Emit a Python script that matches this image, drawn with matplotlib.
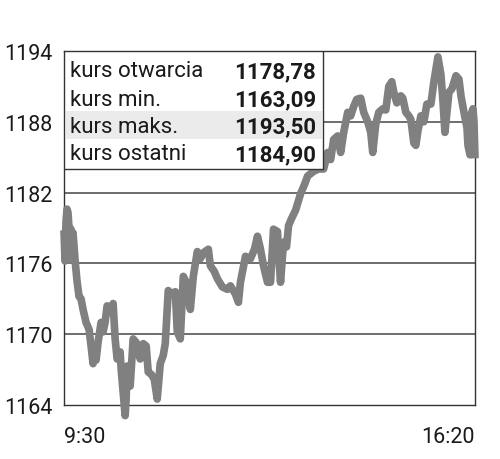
import matplotlib.pyplot as plt
from matplotlib.patches import Rectangle

# minutes since 9:30 and index value
minutes = [0, 1, 2, 3, 4, 5, 6, 7, 8, 9, 10, 11, 13, 15, 17, 19, 22, 25, 27, 29,
           30, 32, 34, 37, 39, 41, 43, 46, 49, 51, 53, 56, 57, 59, 61, 62, 63, 66, 69, 72,
           76, 79, 82, 84, 87, 90, 93, 96, 99, 101, 104, 107, 111, 113, 116, 119, 122, 124, 126, 129,
           133, 136, 139, 144, 146, 150, 153, 158, 163, 166, 171, 174, 176, 181, 186, 190, 193, 196, 199, 203,
           206, 209, 213, 214, 216, 219, 222, 224, 227, 231, 236, 240, 243, 249, 254, 259, 263, 266, 269, 273,
           276, 279, 283, 286, 289, 292, 296, 299, 303, 306, 308, 311, 314, 318, 321, 324, 327, 329, 332, 336,
           338, 341, 344, 346, 349, 351, 353, 356, 359, 362, 366, 369, 372, 373, 376, 378, 380, 384, 387, 391,
           394, 396, 399, 402, 403, 405, 406, 408, 409, 410]
prices = [1178.8, 1176.2, 1179.5, 1180.6, 1180.3, 1179.0, 1176.3, 1178.9, 1178.0, 1178.6, 1177.5, 1176.3, 1174.5, 1173.2, 1173.0, 1172.1, 1171.0, 1170.4, 1169.0, 1167.5,
          1168.5, 1167.8, 1169.3, 1171.0, 1170.2, 1171.0, 1172.4, 1171.9, 1172.6, 1169.6, 1167.9, 1168.5, 1167.05, 1165.1, 1163.1, 1164.5, 1167.3, 1165.6, 1169.6, 1169.3,
          1167.9, 1169.2, 1169.0, 1166.8, 1166.6, 1166.2, 1164.5, 1167.5, 1168.2, 1169.2, 1173.7, 1173.4, 1173.6, 1170.2, 1169.6, 1174.9, 1174.4, 1173.0, 1172.1, 1174.9,
          1177.0, 1176.4, 1176.9, 1177.2, 1175.8, 1175.3, 1174.7, 1174.0, 1173.8, 1174.1, 1173.4, 1172.7, 1174.4, 1176.6, 1176.4, 1177.2, 1178.3, 1177.2, 1175.8, 1174.4,
          1174.4, 1178.9, 1178.7, 1177.0, 1174.4, 1177.8, 1177.4, 1179.2, 1179.8, 1180.5, 1181.9, 1182.7, 1183.4, 1183.8, 1184.0, 1184.0, 1185.4, 1184.8, 1186.5, 1186.8,
          1185.4, 1187.1, 1188.8, 1188.5, 1189.3, 1189.9, 1190.0, 1188.8, 1188.0, 1187.1, 1185.4, 1187.8, 1188.8, 1189.1, 1189.0, 1191.0, 1191.4, 1190.5, 1189.6, 1190.2,
          1190.0, 1188.8, 1188.5, 1188.2, 1186.2, 1186.0, 1187.2, 1188.5, 1188.0, 1189.5, 1189.5, 1191.4, 1193.0, 1193.5, 1192.0, 1189.8, 1187.1, 1190.5, 1190.8, 1191.9,
          1191.6, 1190.2, 1188.8, 1187.5, 1186.0, 1185.2, 1188.6, 1189.1, 1188.0, 1184.9]

y_ticks = [1164, 1170, 1176, 1182, 1188, 1194]
x_ticks = [0, 410]
x_labels = ["9:30", "16:20"]

stat_names = ["kurs otwarcia", "kurs min.", "kurs maks.", "kurs ostatni"]
stat_values = ["1178,78", "1163,09", "1193,50", "1184,90"]

plt.rcParams['font.family'] = ['Roboto', 'DejaVu Sans']

fig = plt.figure(figsize=(5, 4.6), dpi=100)
ax = fig.add_axes([0.128, 0.1174, 0.822, 0.7696])

for v in y_ticks[1:-1]:
    ax.axhline(v, color='#555555', lw=1.2, zorder=1)

ax.plot(minutes, prices, color='#808080', lw=5.5, solid_joinstyle='round',
        solid_capstyle='butt', clip_on=False, zorder=3)

ax.set_xlim(0, 410)
ax.set_ylim(1164, 1194)
ax.set_yticks(y_ticks)
ax.set_yticklabels([str(v) for v in y_ticks])
ax.set_xticks(x_ticks)
ax.set_xticklabels(x_labels)
ax.tick_params(length=0, labelsize=15.5, colors='#1a1a1a')
ax.tick_params(axis='y', pad=8)
ax.tick_params(axis='x', pad=15)
xl = ax.get_xticklabels()
xl[0].set_ha('left')
xl[1].set_ha('right')
for s in ax.spines.values():
    s.set_color('#333333')
    s.set_linewidth(1)

# stats table in the upper left corner
ax.add_patch(Rectangle((0, 0.667), 0.63, 0.333, transform=ax.transAxes,
                       facecolor='white', edgecolor='#333333', lw=1, zorder=5))
ax.add_patch(Rectangle((0.005, 0.751), 0.623, 0.08, transform=ax.transAxes,
                       facecolor='#ebebeb', edgecolor='none', zorder=6))
row_y = [0.9435, 0.864, 0.788, 0.709]
for name, val, yy in zip(stat_names, stat_values, row_y):
    ax.text(0.0146, yy, name, transform=ax.transAxes, ha='left', va='center',
            fontsize=16, color='#1a1a1a', zorder=7)
    ax.text(0.613, yy, val, transform=ax.transAxes, ha='right', va='center',
            fontsize=16, fontweight='bold', color='#1a1a1a', zorder=7)

fig.savefig('out.png', dpi=100)
